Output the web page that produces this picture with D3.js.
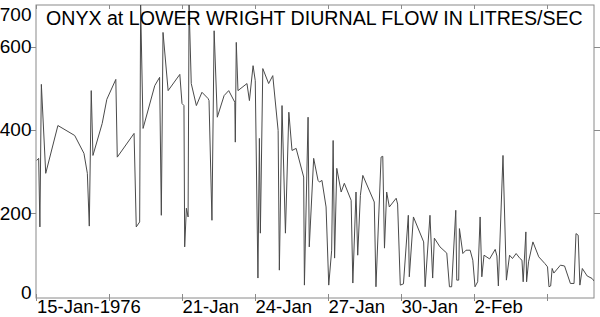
<!DOCTYPE html>
<html><head><meta charset="utf-8">
<script src="https://cdn.jsdelivr.net/npm/d3@7"></script>
<style>body{margin:0;background:#fff}svg{display:block}</style>
</head><body>
<svg id="c" width="600" height="317"></svg>
<script>
// days since 15-Jan-1976 00:00
const dayOffsets = [0.03,0.11,0.16,0.22,0.40,0.90,1.59,1.97,2.11,2.19,2.27,2.34,2.72,2.91,3.28,3.34,4.03,4.12,4.26,4.30,4.40,4.88,5.08,5.15,5.22,5.43,5.91,6.00,6.08,6.11,6.18,6.25,6.29,6.38,6.59,6.82,7.07,7.11,7.23,7.32,7.45,7.73,7.92,8.17,8.19,8.23,8.30,8.67,8.77,8.92,9.01,9.12,9.18,9.22,9.32,9.56,9.73,9.95,10.00,10.11,10.25,10.39,10.52,10.69,11.00,11.03,11.18,11.23,11.41,11.59,11.65,11.75,11.92,12.03,12.15,12.21,12.27,12.36,12.54,12.67,12.95,13.02,13.15,13.22,13.33,13.43,13.90,13.97,14.18,14.25,14.32,14.41,14.52,14.80,14.86,14.97,15.10,15.30,15.34,15.51,15.93,15.99,16.19,16.30,16.37,16.60,16.88,16.99,17.08,17.25,17.29,17.37,17.40,17.54,17.67,17.84,17.95,18.04,18.15,18.25,18.32,18.41,18.64,18.87,18.94,19.00,19.19,19.33,19.46,19.58,19.73,19.89,19.97,20.02,20.13,20.16,20.24,20.42,20.66,20.91,21.02,21.08,21.15,21.21,21.28,21.55,21.72,21.96,22.11,22.19,22.28,22.35,22.45,22.65,22.85,22.96];
const flowValues = [326,331,166,509,295,410,386,343,295,168,494,338,415,473,521,334,391,166,178,700,403,506,526,194,634,494,533,463,458,118,211,190,700,511,458,490,475,470,182,638,430,482,494,466,370,610,494,511,470,554,518,43,379,151,547,511,530,398,62,458,151,442,350,355,286,26,430,118,331,278,274,278,214,26,110,374,91,307,250,271,230,31,250,98,242,290,226,22,334,336,115,250,214,235,221,26,29,194,46,190,130,22,194,43,139,118,103,22,22,206,38,38,162,102,110,110,86,22,34,190,46,98,89,112,96,24,338,38,98,90,102,90,86,34,154,34,82,130,94,78,70,22,24,66,55,74,72,30,30,150,146,26,66,48,42,34];

const xTickDates = ["1976-01-15","1976-01-18","1976-01-21","1976-01-24","1976-01-27","1976-01-30","1976-02-02","1976-02-05"];
const xTickLabels = ["15-Jan-1976","","21-Jan","24-Jan","27-Jan","30-Jan","2-Feb",""];
const yLabelValues = [0,200,400,600,700];
const yTickValues = [200,400,600];
const title = "ONYX at LOWER WRIGHT DIURNAL FLOW IN LITRES/SEC";

const start = Date.UTC(1976,0,15);
const data = dayOffsets.map((d,i)=>({t:new Date(start + d*864e5), v:flowValues[i]}));

const L=36,R=594,T=5,B=298;
const x = d3.scaleUtc().domain([new Date(start), new Date(start + 22.93*864e5)]).range([L,R]);
const y = d3.scaleLinear().domain([-5,700]).range([B,T]);

const svg = d3.select("#c");
const font = "'Liberation Sans', Arial, sans-serif";

svg.append("clipPath").attr("id","clip").append("rect")
  .attr("x",L).attr("y",T).attr("width",R-L).attr("height",B-T);

// frame
svg.append("rect").attr("x",L).attr("y",T).attr("width",R-L).attr("height",B-T)
  .attr("fill","none").attr("stroke","#8a8a8a").attr("stroke-width",1);

// line
svg.append("path").datum(data)
  .attr("clip-path","url(#clip)")
  .attr("fill","none").attr("stroke","#4a4a4a").attr("stroke-width",1)
  .attr("d", d3.line().x(d=>x(d.t)).y(d=>y(d.v)));

// x ticks
const xt = xTickDates.map((s,i)=>({d:new Date(s+"T00:00:00Z"), l:xTickLabels[i]}));
const gx = svg.append("g");
xt.forEach(o=>{
  const px = Math.round(x(o.d))+0.5;
  gx.append("line").attr("x1",px).attr("x2",px).attr("y1",B-4).attr("y2",B+3).attr("stroke","#8a8a8a");
  gx.append("line").attr("x1",px).attr("x2",px).attr("y1",T).attr("y2",T+4).attr("stroke","#8a8a8a");
  if (o.l) gx.append("text").attr("x",Math.max(px,L+1)).attr("y",313)
    .attr("font-family",font).attr("font-size",18.5).attr("fill","#000").text(o.l);
});

// y ticks
const gy = svg.append("g");
yTickValues.forEach(v=>{
  const py = Math.round(y(v))+0.5;
  gy.append("line").attr("x1",L-5).attr("x2",L).attr("y1",py).attr("y2",py).attr("stroke","#8a8a8a");
  gy.append("line").attr("x1",R).attr("x2",R+6).attr("y1",py).attr("y2",py).attr("stroke","#8a8a8a");
});
yLabelValues.forEach(v=>{
  let py = y(v);
  let base = py + 6.8;
  if (v===700) base = 21;
  if (v===0) base = 298.5;
  gy.append("text").attr("x",31.5).attr("y",base).attr("text-anchor","end")
    .attr("font-family",font).attr("font-size",19).attr("fill","#000").text(v);
});

// title
svg.append("text").attr("x",46).attr("y",24.5)
  .attr("font-family",font).attr("font-size",19.6).attr("fill","#000").text(title);
</script>
</body></html>
